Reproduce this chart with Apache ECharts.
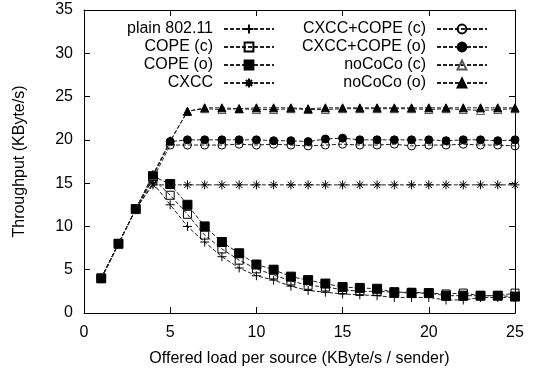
<!DOCTYPE html>
<html>
<head>
<meta charset="utf-8">
<script src="https://cdn.jsdelivr.net/npm/echarts@6/dist/echarts.min.js"></script>
<style>html,body{margin:0;padding:0;background:#fff}#c{width:540px;height:376px}</style>
</head>
<body>
<div id="c"></div>
<script>
const xValues = [1,2,3,4,5,6,7,8,9,10,11,12,13,14,15,16,17,18,19,20,21,22,23,24,25];
const seriesNames = ['plain 802.11','COPE (c)','COPE (o)','CXCC','CXCC+COPE (c)','CXCC+COPE (o)','noCoCo (c)','noCoCo (o)'];
const plain80211 = [4,8,12,15.0,12.5,10.0,8.2,6.5,5.2,4.3,3.8,3.1,2.6,2.4,2.2,2.1,2.0,1.8,1.8,1.8,1.5,1.5,1.8,1.8,1.8];
const copeC      = [4,8,12,15.5,13.6,11.4,9.0,7.4,6.1,5.1,4.4,3.7,3.2,3.0,2.7,2.5,2.5,2.4,2.4,2.3,2.2,2.3,2.0,2.0,2.3];
const copeO      = [4,8,12,15.8,14.9,12.5,10.0,8.2,6.9,5.6,5.0,4.2,3.8,3.4,3.0,2.9,2.8,2.4,2.3,2.3,2.0,2.0,2.0,2.0,1.9];
const cxcc       = [4,8,12,14.8,14.8,14.8,14.8,14.8,14.8,14.8,14.8,14.8,14.8,14.8,14.8,14.8,14.8,14.8,14.8,14.8,14.8,14.8,14.8,14.8,14.8];
const cxccCopeC  = [4,8,12,15.5,19.4,19.4,19.4,19.4,19.5,19.4,19.5,19.4,19.3,19.4,19.5,19.4,19.4,19.5,19.3,19.4,19.4,19.5,19.4,19.4,19.3];
const cxccCopeO  = [4,8,12,15.8,19.8,20.0,20.0,20.0,20.0,20.0,19.9,19.9,19.8,20.1,20.2,20.0,20.0,20.0,20.0,20.0,19.9,20.0,20.0,19.9,20.0];
const noCoCoC    = [4,8,12,15.9,19.8,23.3,23.6,23.5,23.6,23.5,23.5,23.6,23.5,23.5,23.6,23.6,23.6,23.6,23.6,23.5,23.6,23.5,23.4,23.5,23.6];
const noCoCoO    = [4,8,12,16.0,19.9,23.3,23.7,23.7,23.6,23.7,23.7,23.7,23.6,23.7,23.7,23.7,23.7,23.7,23.7,23.7,23.7,23.7,23.7,23.7,23.7];
const xTicks = [0,5,10,15,20,25];
const yTicks = [0,5,10,15,20,25,30,35];

const FONT = 'Liberation Sans';
const PLUS = 'path://M5,0L5,10M0,5L10,5';
const STAR = 'path://M5,0L5,10M0,5L10,5M1.5,1.5L8.5,8.5M8.5,1.5L1.5,8.5';
const dataSets = [plain80211, copeC, copeO, cxcc, cxccCopeC, cxccCopeO, noCoCoC, noCoCoO];
const styles = [
  {symbol: PLUS, size: 9, fill: 'none', stroke: '#000'},
  {symbol: 'rect', size: 8, fill: 'none', stroke: '#000'},
  {symbol: 'rect', size: 9, fill: '#000', stroke: '#000'},
  {symbol: STAR, size: 9, fill: 'none', stroke: '#000'},
  {symbol: 'circle', size: 8, fill: 'none', stroke: '#000'},
  {symbol: 'circle', size: 8, fill: '#000', stroke: '#000'},
  {symbol: 'triangle', size: 8, fill: 'none', stroke: '#555'},
  {symbol: 'triangle', size: 8, fill: '#000', stroke: '#000'}
];

const series = seriesNames.map((name, i) => ({
  name: name,
  type: 'line',
  xAxisIndex: 0,
  yAxisIndex: 0,
  data: xValues.map((x, j) => [x, dataSets[i][j]]),
  symbol: styles[i].symbol,
  symbolSize: styles[i].size,
  showAllSymbol: true,
  lineStyle: {color: '#222', width: 1, type: [4, 2]},
  itemStyle: {color: styles[i].fill, borderColor: styles[i].stroke, borderWidth: 1},
  emphasis: {disabled: true},
  z: 2 + i
}));

const legendBase = {
  orient: 'vertical',
  align: 'right',
  top: 15,
  itemWidth: 50,
  itemHeight: 11,
  itemGap: 0,
  selectedMode: false,
  textStyle: {fontFamily: FONT, fontSize: 16, color: '#000', lineHeight: 18, padding: [0, 6, 0, 0]}
};

const chart = echarts.init(document.getElementById('c'), null, {renderer: 'canvas'});
chart.setOption({
  animation: false,
  backgroundColor: '#fff',
  grid: {left: 84, right: 25, top: 10, bottom: 63, containLabel: false},
  legend: [
    Object.assign({}, legendBase, {right: 260, data: seriesNames.slice(0, 4)}),
    Object.assign({}, legendBase, {right: 47, data: seriesNames.slice(4, 8)})
  ],
  xAxis: [{
    type: 'value', min: xTicks[0], max: xTicks[xTicks.length - 1], interval: 5,
    name: 'Offered load per source (KByte/s / sender)', nameLocation: 'middle', nameGap: 38,
    nameTextStyle: {fontFamily: FONT, fontSize: 16, color: '#000'},
    axisLine: {show: true, onZero: false, lineStyle: {color: '#000', width: 1}},
    axisTick: {show: true, inside: true, length: 6, lineStyle: {color: '#000'}},
    axisLabel: {fontFamily: FONT, fontSize: 16, color: '#000', margin: 12},
    splitLine: {show: false}
  }, {
    type: 'value', position: 'top', min: xTicks[0], max: xTicks[xTicks.length - 1], interval: 5,
    axisLine: {show: true, onZero: false, lineStyle: {color: '#000', width: 1}},
    axisTick: {show: true, inside: true, length: 6, lineStyle: {color: '#000'}},
    axisLabel: {show: false}, splitLine: {show: false}
  }],
  yAxis: [{
    type: 'value', min: yTicks[0], max: yTicks[yTicks.length - 1], interval: 5,
    name: 'Throughput (KByte/s)', nameLocation: 'middle', nameGap: 56,
    nameTextStyle: {fontFamily: FONT, fontSize: 16, color: '#000'},
    axisLine: {show: true, onZero: false, lineStyle: {color: '#000', width: 1}},
    axisTick: {show: true, inside: true, length: 6, lineStyle: {color: '#000'}},
    axisLabel: {fontFamily: FONT, fontSize: 16, color: '#000', margin: 11},
    splitLine: {show: false}
  }, {
    type: 'value', position: 'right', min: yTicks[0], max: yTicks[yTicks.length - 1], interval: 5,
    axisLine: {show: true, onZero: false, lineStyle: {color: '#000', width: 1}},
    axisTick: {show: true, inside: true, length: 6, lineStyle: {color: '#000'}},
    axisLabel: {show: false}, splitLine: {show: false}
  }],
  series: series
});
</script>
</body>
</html>
